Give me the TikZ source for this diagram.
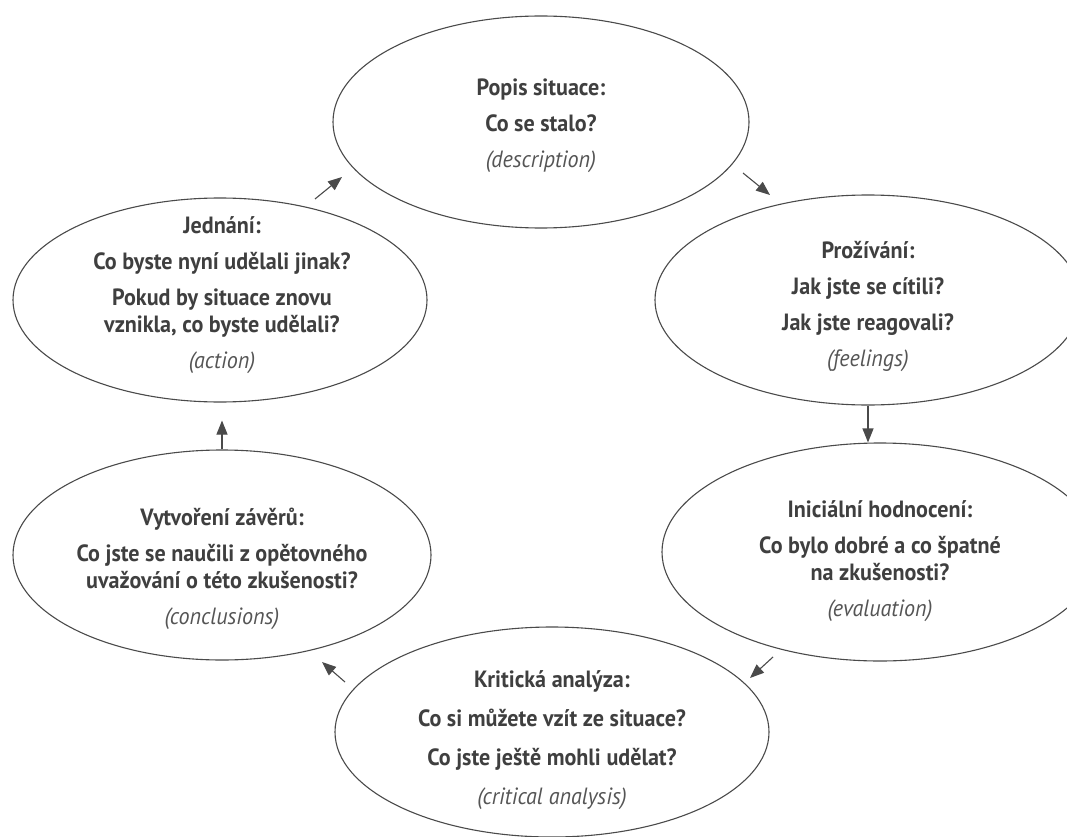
\documentclass[tikz,border=0pt]{standalone}
\usepackage{fontspec}
\newfontfamily\cond[FakeStretch=0.94]{PT Sans}
\usetikzlibrary{shapes.geometric,arrows.meta}
\definecolor{ink}{HTML}{3F3F3F}
\definecolor{linec}{HTML}{4A4A4A}
\definecolor{itc}{HTML}{555555}
\newcommand{\itl}[1]{\textcolor{itc}{\mdseries\itshape #1}}
\begin{document}
\begin{tikzpicture}[x=1pt,y=-1pt,
  ell/.style={ellipse, draw=linec, line width=1.1pt, inner sep=0pt},
  txt/.style={align=center, text=ink, font=\cond\bfseries\fontsize{23.5}{27}\selectfont},
  arr/.style={draw=linec, line width=1.1pt, -{Triangle[length=14pt,width=11pt]}}]
\useasboundingbox (0,0) rectangle (1067,837);
\clip (0,0) rectangle (1067,837);
% ellipses
\node[ell, minimum width=416pt, minimum height=212pt] (e1) at (541,122) {};
\node[ell, minimum width=426pt, minimum height=210pt] (e2) at (868,300) {};
\node[ell, minimum width=436pt, minimum height=218pt] (e3) at (880,552) {};
\node[ell, minimum width=434pt, minimum height=210pt] (e6) at (552,732) {};
\node[ell, minimum width=418pt, minimum height=210pt] (e5) at (222,555) {};
\node[ell, minimum width=414pt, minimum height=204pt] (e4) at (220,300) {};
% texts
\node[txt] (t1) at (541,126) {Popis situace:\\[9pt]Co se stalo?\\[9pt]\itl{(description)}};
\node[txt] (t2) at (868,306) {Prožívání:\\[9pt]Jak jste se cítili?\\[9pt]Jak jste reagovali?\\[9pt]\itl{(feelings)}};
\node[txt] (t3) at (880,561) {Iniciální hodnocení:\\[9pt]Co bylo dobré a co špatné\\na zkušenosti?\\[9pt]\itl{(evaluation)}};
\node[txt] (t6) at (552,740) {Kritická analýza:\\[12pt]Co si můžete vzít ze situace?\\[12pt]Co jste ještě mohli udělat?\\[12pt]\itl{(critical analysis)}};
\node[txt] (t5) at (222,569) {Vytvoření závěrů:\\[9pt]Co jste se naučili z opětovného\\uvažování o této zkušenosti?\\[9pt]\itl{(conclusions)}};
\node[txt] (t4) at (222,295) {Jednání:\\[9pt]Co byste nyní udělali jinak?\\[9pt]Pokud by situace znovu\\vznikla, co byste udělali?\\[9pt]\itl{(action)}};
% arrow ends
\coordinate (a1s) at (743,173); \coordinate (a1e) at (770,195);
\coordinate (a3s) at (773,657); \coordinate (a3e) at (750,678);
\coordinate (a4s) at (345,682); \coordinate (a4e) at (322,662);
\coordinate (a6s) at (315,199); \coordinate (a6e) at (342,177);
\draw[arr] (a1s) -- (a1e);
\draw[arr] (e2.south) -- (e2.south |- e3.north);
\draw[arr] (a3s) -- (a3e);
\draw[arr] (a4s) -- (a4e);
\draw[arr, shorten >=18pt] (e5.north) -- (e5.north |- e4.south);
\draw[arr] (a6s) -- (a6e);
\end{tikzpicture}
\end{document}
